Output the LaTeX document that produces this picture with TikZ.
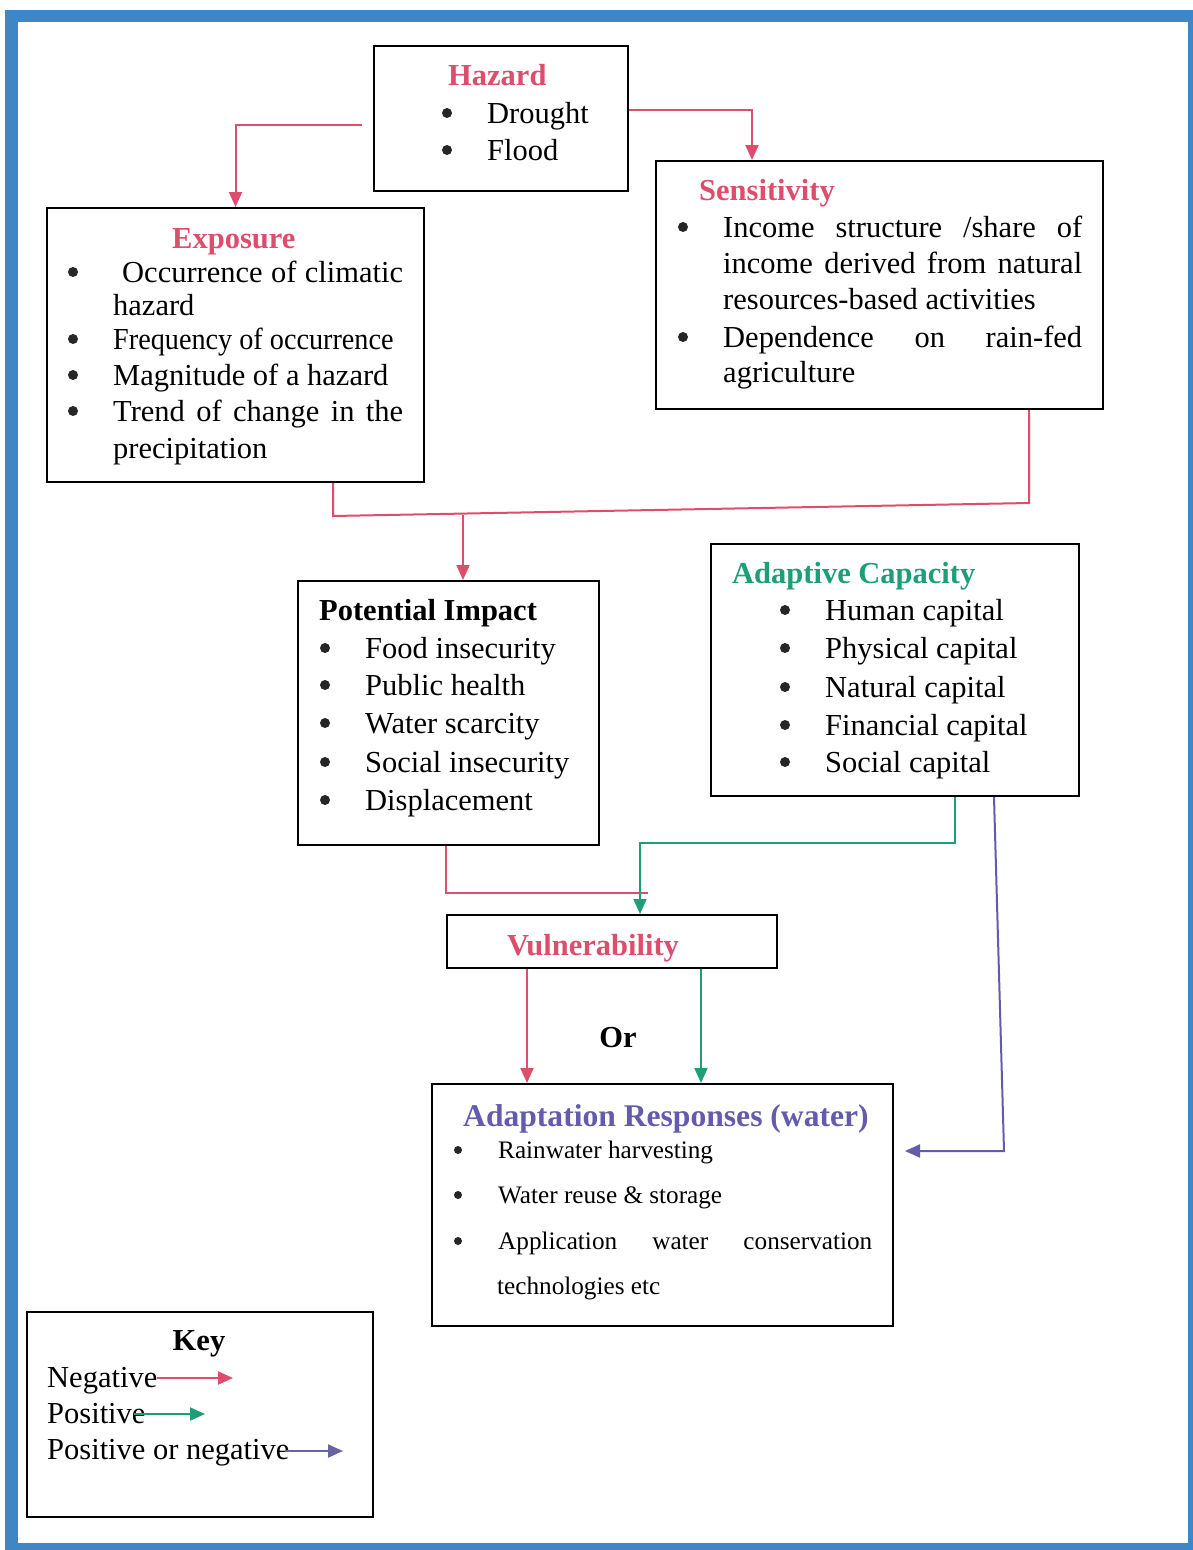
\documentclass[tikz,border=0pt]{standalone}
\usepackage{fontspec}
\setmainfont{Liberation Serif}
\usetikzlibrary{arrows.meta,calc}
\definecolor{negc}{RGB}{221,78,108}
\definecolor{posc}{RGB}{30,158,118}
\definecolor{pnc}{RGB}{100,92,170}
\definecolor{framec}{RGB}{62,134,198}
\newcommand\fsA{\fontsize{30.5}{36}\selectfont}
\newcommand\fsC{\fontsize{25.2}{30}\selectfont}
\newcommand\bitem[5]{\node[bul] (#1b) at (#2,#4-10) {}; \node[txt] (#1) at (#3,#4) {#5};}
\newcommand\sitem[5]{\node[bul,minimum size=8pt] (#1b) at (#2,#4-8) {}; \node[txt] (#1) at (#3,#4) {#5};}
\newcommand\tline[4]{\node[txt] (#1) at (#2,#3) {#4};}
\begin{document}
\begin{tikzpicture}[x=1pt,y=-1pt,font=\fsA,
  box/.style={draw,line width=2pt,anchor=north west,inner sep=0pt},
  txt/.style={inner sep=0pt,anchor=base west},
  ttl/.style={inner sep=0pt,anchor=base west,font=\fsA\bfseries},
  bul/.style={circle,fill=black!85,inner sep=0pt,minimum size=10pt},
  conn/.style={line width=2pt},
  negline/.style={conn,draw=negc},
  negarr/.style={negline,-{Triangle[length=15pt,width=13pt]}},
  posarr/.style={conn,draw=posc,-{Triangle[length=15pt,width=13pt]}},
  pnarr/.style={conn,draw=pnc,-{Triangle[length=15pt,width=13pt]}}]
\useasboundingbox (0,0) rectangle (1193,1550);
\fill[white] (0,0) rectangle (1193,1550);
\fill[framec] (5,10) rectangle (1193,1550);
\fill[white] (18,22) rectangle (1188,1543);

% boxes
\node[box,minimum width=254pt,minimum height=145pt] (haz) at (373,45) {};
\node[box,minimum width=377pt,minimum height=274pt] (expo) at (46,207) {};
\node[box,minimum width=447pt,minimum height=248pt] (sens) at (655,160) {};
\node[box,minimum width=301pt,minimum height=264pt] (pimp) at (297,580) {};
\node[box,minimum width=368pt,minimum height=252pt] (adap) at (710,543) {};
\node[box,minimum width=330pt,minimum height=53pt] (vul) at (446,914) {};
\node[box,minimum width=461pt,minimum height=242pt] (resp) at (431,1083) {};
\node[box,minimum width=346pt,minimum height=205pt] (key) at (26,1311) {};

% Hazard
\node[ttl,text=negc] (hazt) at (448,85) {Hazard};
\bitem{h1}{447}{487}{123}{Drought}
\bitem{h2}{447}{487}{160}{Flood}

% Exposure
\node[ttl,text=negc] (expt) at (172,248) {Exposure};
\bitem{e1}{73}{122}{282}{\makebox[281pt][s]{Occurrence of climatic}}
\tline{e1b2}{113}{315}{hazard}
\bitem{e2}{73}{113}{349}{\scalebox{0.925}[1]{Frequency of occurrence}}
\bitem{e3}{73}{113}{385}{Magnitude of a hazard}
\bitem{e4}{73}{113}{421}{\makebox[290pt][s]{Trend of change in the}}
\tline{e4b2}{113}{458}{precipitation}

% Sensitivity
\node[ttl,text=negc] (sent) at (699,200) {Sensitivity};
\bitem{s1}{683}{723}{237}{\makebox[359pt][s]{Income structure /share of}}
\tline{s1b2}{723}{273}{\makebox[359pt][s]{income derived from natural}}
\tline{s1b3}{723}{309}{resources-based activities}
\bitem{s2}{683}{723}{347}{\makebox[359pt][s]{Dependence on rain-fed}}
\tline{s2b2}{723}{382}{agriculture}

% Potential impact
\node[ttl] (pit) at (319,620) {Potential Impact};
\bitem{p1}{325}{365}{658}{Food insecurity}
\bitem{p2}{325}{365}{695}{Public health}
\bitem{p3}{325}{365}{733}{Water scarcity}
\bitem{p4}{325}{365}{772}{Social insecurity}
\bitem{p5}{325}{365}{810}{Displacement}

% Adaptive capacity
\node[ttl,text=posc] (act) at (732,583) {Adaptive Capacity};
\bitem{a1}{785}{825}{620}{Human capital}
\bitem{a2}{785}{825}{658}{Physical capital}
\bitem{a3}{785}{825}{697}{Natural capital}
\bitem{a4}{785}{825}{735}{Financial capital}
\bitem{a5}{785}{825}{772}{Social capital}

% Vulnerability
\node[ttl,anchor=base,text=negc] (vult) at (593,955) {Vulnerability};
\node[ttl,anchor=base] (ortxt) at (618,1047) {Or};

% Adaptation responses
\node[ttl,text=pnc,font=\fontsize{31.6}{36}\selectfont\bfseries] (respt) at (463,1126) {Adaptation Responses (water)};
\begin{scope}[font=\fsC]
\sitem{r1}{458}{498}{1158}{Rainwater harvesting}
\sitem{r2}{458}{498}{1203}{Water reuse \& storage}
\sitem{r3}{458}{498}{1249}{\makebox[374pt][s]{Application water conservation}}
\tline{r3b2}{497}{1294}{technologies etc}
\end{scope}

% Key
\node[ttl,anchor=base] (keyt) at (199,1350) {Key};
\tline{kneg}{47}{1387}{Negative}
\tline{kpos}{47}{1423}{Positive}
\tline{kpn}{47}{1459}{Positive or negative}
\coordinate (ka1) at (233,1378);
\coordinate (ka2) at (205,1414);
\coordinate (ka3) at (343,1451);
\draw[negarr] (kneg.east |- ka1) -- (ka1);
\draw[posarr] ([xshift=-12pt]kpos.east |- ka2) -- (ka2);
\draw[pnarr,draw=pnc!80!gray] ([xshift=-5pt]kpn.east |- ka3) -- (ka3);

% connectors
\coordinate (hzl) at (362,125);
\draw[negarr] (hzl) -| (expo.north);
\coordinate (hzr) at (752,110);
\draw[negarr] (haz.east |- hzr) -- (hzr) -- (sens.north -| hzr);

\coordinate (j1) at (333,516);
\coordinate (j2) at (1029,503);
\coordinate (j3) at (463,515);
\draw[negline] (expo.south -| j1) -- (j1) -- (j2) -- (sens.south -| j2);
\draw[negarr] (j3) -- (pimp.north -| j3);

\coordinate (j4) at (446,893);
\coordinate (j5) at (648,893);
\draw[negline] (pimp.south -| j4) -- (j4) -- (j5);

\coordinate (j6) at (955,843);
\coordinate (j7) at (640,843);
\draw[posarr] (adap.south -| j6) -- (j6) -- (j7) -- (vul.north -| j7);

\draw[negarr] ([xshift=-85pt]vul.south) -- ([xshift=-85pt]vul.south |- resp.north);
\draw[posarr] ([xshift=89pt]vul.south) -- ([xshift=89pt]vul.south |- resp.north);

\coordinate (j8) at (1004,1151);
\coordinate (j9) at (905,1151);
\draw[pnarr] ([xshift=99pt]adap.south) -- (j8) -- (j9);
\end{tikzpicture}
\end{document}
